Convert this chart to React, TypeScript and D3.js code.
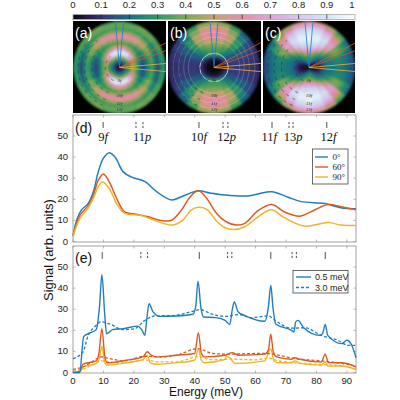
import React, { useEffect, useRef } from "react";
import * as d3 from "d3";

const blue = "#1f7dc2";
const orange = "#dc5a20";
const yellow = "#f0b429";

// colour scale of the polar maps
const cmapStops = [0, 0.05, 0.1, 0.2, 0.3, 0.4, 0.5, 0.6, 0.7, 0.8, 0.9, 1];
const cmapColors = ["#0c0c10", "#2b1a4c", "#36397c", "#177488", "#2f9a62", "#7fab55", "#cda070", "#e68fa8", "#e2a4dc", "#d8c8f0", "#d4e8f8", "#ffffff"];
const cbarTicks = [0, 0.1, 0.2, 0.3, 0.4, 0.5, 0.6, 0.7, 0.8, 0.9, 1];

// polar maps: one row per 15 deg from vertical, one column per radial ring
const mapA = [
  [.03,.1,.25,.4,.85,.95,.7,.5,.36,.45,.6,.57,.42,.33,.38,.35],
  [.03,.1,.25,.42,.85,.95,.7,.48,.34,.43,.6,.6,.42,.33,.38,.35],
  [.03,.1,.25,.42,.85,.92,.62,.42,.31,.4,.57,.6,.42,.31,.38,.38],
  [.03,.1,.25,.4,.72,.75,.5,.35,.28,.36,.48,.5,.38,.28,.38,.36],
  [.03,.1,.24,.35,.58,.55,.4,.28,.22,.3,.38,.42,.3,.23,.33,.34],
  [.03,.1,.22,.3,.48,.42,.3,.2,.14,.22,.3,.35,.25,.16,.28,.3],
  [.03,.1,.22,.28,.42,.38,.28,.16,.12,.2,.28,.32,.22,.12,.24,.3],
];
const mapB = [
  [0,0,.02,.08,.3,.32,.35,.4,.45,.5,.58,.6,.6,.58,.5,.45],
  [0,0,.02,.08,.3,.32,.34,.38,.44,.5,.56,.58,.58,.55,.48,.42],
  [0,0,.02,.07,.25,.26,.3,.33,.38,.42,.46,.48,.46,.42,.36,.3],
  [0,0,.02,.06,.18,.2,.22,.24,.26,.28,.3,.3,.28,.24,.2,.17],
  [0,0,.02,.05,.13,.14,.15,.16,.17,.17,.17,.17,.16,.14,.12,.1],
  [0,0,.01,.04,.1,.1,.11,.11,.11,.11,.11,.11,.1,.1,.09,.08],
  [0,0,.01,.04,.09,.09,.1,.1,.1,.1,.1,.1,.09,.09,.08,.07],
];
const mapC = [
  [.1,.2,.3,.35,.45,.62,.75,.85,.9,.95,.95,.95,.9,.85,.75,.6],
  [.05,.15,.25,.3,.4,.55,.72,.82,.88,.93,.95,.93,.88,.82,.72,.55],
  [.03,.1,.2,.25,.3,.38,.55,.7,.8,.85,.88,.85,.8,.72,.6,.45],
  [.02,.05,.12,.18,.22,.28,.35,.45,.55,.65,.68,.66,.6,.52,.42,.32],
  [.01,.03,.06,.1,.15,.2,.24,.28,.34,.38,.4,.38,.35,.3,.25,.2],
  [.01,.02,.03,.06,.12,.18,.2,.22,.24,.25,.26,.25,.23,.2,.17,.14],
  [.01,.02,.03,.05,.1,.16,.2,.21,.22,.23,.24,.23,.21,.18,.15,.12],
];
const ringFracs = [0.31, 0.6, 0.76, 0.9];
const ringLabels = ["9f", "10f", "11f", "12f"];
const thinRingsB = [0.31, 0.56, 0.66, 0.77, 0.89];

// panel (d): [energy, signal]
const d0: number[][] = [[0,2.5],[1.2,10],[2.8,15],[5,18],[6.7,23.6],[8.3,33],[10,39.5],[11.8,42],[13.8,40],[16.5,33],[19.3,30.5],[23.7,28.4],[27.5,23.6],[32.4,19.7],[36.2,21.6],[41.2,24],[45,23],[50,22],[57.6,21.6],[60.8,22.5],[65.3,23.6],[70.7,21],[75,18.9],[82.7,18],[88,16],[93,15.5]];
const d60: number[][] = [[0,2.5],[2.3,12.5],[5,17],[6.7,22],[8.3,29],[10,32],[12,28],[14.3,20.5],[17,14],[20.9,12.9],[24.7,11.7],[28.5,10.1],[32.4,10.1],[35.7,15],[38.4,21],[41.2,24],[43.9,20.5],[47.2,13.3],[50,9.7],[53.7,7.8],[56.5,8.6],[60.8,14.6],[65.3,17.5],[69.5,14],[74.6,12],[78.9,14.6],[83.9,17.5],[88,16.5],[93,15]];
const d90: number[][] = [[0,2.5],[2.3,11],[5,16],[6.7,20.5],[8.3,26],[9.7,28.2],[12,25],[14.3,18],[17,13.3],[22,12.5],[25,11],[29.6,8.6],[32.8,7.8],[36,10],[38.9,15],[41.5,16.2],[44.2,15],[47,10],[50,6.5],[53,5.7],[56.5,7],[60.8,11.7],[65.3,15],[69,11.7],[76,7.3],[83.9,9],[88,7.8],[93,7.6]];

// panel (e): solid 0.5 meV, dashed 3.0 meV
const eBlue: number[][] = [[0,0],[2.2,0],[3.5,17],[5,18.4],[7.6,20.3],[8.7,31],[9.5,46.3],[10.4,28],[11,18.4],[13,20.3],[16.5,20.8],[21.3,22],[22.7,20],[23.6,17.6],[24.2,24.7],[25,32.6],[26.3,28.7],[28.5,26.6],[34,26.8],[39.4,27.6],[40.3,31],[41.1,43.3],[42,31],[42.9,26.3],[47,26],[50,24.7],[51.5,22.7],[52.3,29.4],[53,33.4],[54.3,28.7],[56.5,27],[63,24.3],[64.2,31],[65,41.3],[65.7,31],[66.6,23],[71.8,20],[72.6,19.2],[73.2,24],[74,24.7],[75.7,21.3],[81.1,17.6],[82,18.4],[82.9,22.8],[83.7,17.6],[88.3,13.7],[90,15.3],[91.6,12.9],[93,7]];
const eBlueDash: number[][] = [[0,6.6],[3.3,9.8],[5,17.6],[7.1,21.6],[9.3,24],[12,23],[16.5,20.3],[20.3,20.8],[23.6,24.7],[26.9,26.8],[32.9,27],[39.4,29],[41.6,29.8],[46,27.5],[50,26.6],[54.3,27.5],[58.7,26],[64.2,26.8],[66.4,24.7],[71.8,21],[76.2,21.2],[81.6,17.6],[87,15.3],[90.4,12.9],[93,12.9]];
const eOrange: number[][] = [[0,0],[2.2,0.5],[3.3,4],[7.6,5.5],[8.5,9],[9.5,20.8],[10.4,8.2],[11.2,4.6],[17.5,5.8],[23,7.4],[24.4,9.8],[25.7,8.2],[27.4,7.4],[34,8.2],[40,9],[41.2,18.9],[42.2,9],[43.2,7.4],[50,8.2],[52.3,9.4],[54.3,8.2],[63,8.7],[64.2,10.6],[65,18.1],[65.8,9.8],[66.9,7.4],[71.8,6.3],[72.9,7],[74.6,6.3],[81.6,5],[82.9,8.7],[83.9,4.7],[88.3,4.6],[93,2.7]];
const eOrangeDash: number[][] = [[0,1.5],[3.3,2.7],[5.5,4.3],[9.3,7.4],[12,6.6],[16.5,5.5],[23.6,7.7],[28.5,7.4],[34,8.2],[41,11.3],[46,9],[51.5,8.7],[60,9],[64,9],[67.5,8.2],[73,6.6],[81.6,5.5],[88.3,4.3],[93,3]];
const eYellow: number[][] = [[0,0],[2.2,0],[3.3,2.7],[7.6,4.2],[8.5,5.8],[9.5,12.4],[10.4,5],[11.2,3.5],[17.5,4.6],[23,6.1],[24.4,8.2],[25.4,4.6],[27.4,3.9],[34,4.6],[40,5.8],[41.2,11.3],[42.2,5.8],[43.2,4.6],[49.8,6.1],[50.5,7.7],[51.5,7],[53.2,4.3],[63,5.5],[65,11.3],[65.9,6.1],[66.9,4.7],[71.8,4.6],[72.9,5.5],[74.6,4.3],[81.6,3.5],[82.9,5],[83.9,3],[88.3,3.1],[93,1.4]];
const eYellowDash: number[][] = [[0,1],[3.3,1.6],[5.5,3],[9.3,5.5],[12,5],[16.5,4.5],[23.6,6],[28.5,5],[34,5],[41,7.5],[46,6],[51.5,6.3],[60,6],[64,6.8],[67.5,5.5],[73,4.6],[81.6,3.8],[88.3,3.2],[93,1.8]];

// threshold markers
const dSolid = [9.9, 41.4, 65.4, 83.4];
const dDashed = [20.7, 23, 49.3, 50.9, 71, 72.3];
const eSolid = [9.6, 41.5, 65, 82.9];
const eDashed = [22.3, 24.5, 50.8, 52.2, 72, 73.4];
const dNames = ["9f", "11p", "10f", "12p", "11f", "13p", "12f"];
const dNameE = [9.9, 22.7, 41.4, 50.5, 64.5, 72.3, 84];

const xTicks = [0, 10, 20, 30, 40, 50, 60, 70, 80, 90];
const yTicks = [0, 10, 20, 30, 40, 50];

const sans = "'Liberation Sans', Arial, sans-serif";
const serif = "'Liberation Serif', 'Times New Roman', serif";

export default function App() {
  const ref = useRef<SVGSVGElement>(null);

  useEffect(() => {
    const svg = d3.select(ref.current);
    svg.selectAll("*").remove();

    const left = 73, right = 356;
    const x = d3.scaleLinear().domain([0, 93]).range([left, right]);
    const color = d3.scaleLinear<string>().domain(cmapStops).range(cmapColors);

    const defs = svg.append("defs");
    defs.append("filter").attr("id", "soft").attr("x", "-5%").attr("y", "-5%").attr("width", "110%").attr("height", "110%")
      .attr("color-interpolation-filters", "sRGB")
      .append("feGaussianBlur").attr("stdDeviation", 0.9);

    // colour bar
    const cb = d3.scaleLinear().domain([0, 1]).range([left, 355]);
    d3.range(0, 1, 0.01).forEach(v => {
      svg.append("rect").attr("x", cb(v)).attr("y", 14.5).attr("width", 3.4).attr("height", 5).attr("fill", color(v));
    });
    svg.append("rect").attr("x", left).attr("y", 14.5).attr("width", 282).attr("height", 5).attr("fill", "none").attr("stroke", "#aaa").attr("stroke-width", 0.8);
    cbarTicks.forEach((t, i) => {
      if (i > 0 && i < 10) svg.append("line").attr("x1", cb(t)).attr("x2", cb(t)).attr("y1", 14.5).attr("y2", 19).attr("stroke", "#222").attr("stroke-width", 0.7);
      svg.append("text").attr("x", i === 10 ? 352 : cb(t)).attr("y", 8).attr("text-anchor", "middle")
        .attr("font-family", sans).attr("font-size", 9.5).attr("fill", "#222").text(String(t));
    });

    // polar panels
    const R = 46;
    const panels = [
      { id: "a", map: mapA, x0: 73, w: 93, cx: 119.5, rings: [] as number[], ringOp: 0, dash: "#2a3a3a" },
      { id: "b", map: mapB, x0: 168, w: 93, cx: 214, rings: thinRingsB, ringOp: 0.4, dash: "#26303c" },
      { id: "c", map: mapC, x0: 263, w: 92, cx: 309, rings: [] as number[], ringOp: 0, dash: "#26303c" },
    ];
    const cy = 67.5;
    const arc = d3.arc();
    const ringW = R / 16;
    const radial = d3.lineRadial<number>().angle(d => d).radius(1).curve(d3.curveLinear);

    panels.forEach(p => {
      defs.append("clipPath").attr("id", "clip" + p.id).append("rect")
        .attr("x", p.x0).attr("y", 21).attr("width", p.w).attr("height", 92);
      const g = svg.append("g").attr("clip-path", `url(#clip${p.id})`);
      g.append("rect").attr("x", p.x0).attr("y", 21).attr("width", p.w).attr("height", 92).attr("fill", "#000");

      const cells = g.append("g").attr("filter", "url(#soft)").attr("transform", `translate(${p.cx},${cy})`);
      d3.range(24).forEach(s => {
        const deg = s * 15;
        const fold = deg <= 90 ? deg : deg <= 180 ? 180 - deg : deg <= 270 ? deg - 180 : 360 - deg;
        const row = p.map[fold / 15];
        const a0 = ((deg - 7.5) * Math.PI) / 180;
        const a1 = ((deg + 7.5) * Math.PI) / 180;
        row.forEach((v, i) => {
          const c = color(v);
          cells.append("path")
            .attr("d", arc({ innerRadius: i * ringW, outerRadius: (i + 1) * ringW, startAngle: a0, endAngle: a1 }) as string)
            .attr("fill", c).attr("stroke", c).attr("stroke-width", 0.5);
        });
      });

      const over = g.append("g").attr("transform", `translate(${p.cx},${cy})`);
      p.rings.forEach(r => {
        over.append("circle").attr("r", r * R).attr("fill", "none").attr("stroke", "#f4f0ea")
          .attr("stroke-width", r < 0.4 ? 1 : 0.5).attr("opacity", r < 0.4 ? 0.7 : p.ringOp);
      });

      // dashed threshold arcs on the left side
      ringFracs.forEach(r => {
        const pts = d3.range(3.55, 5.6, 0.04);
        over.append("path").attr("d", radial.radius(r * R)(pts) as string).attr("fill", "none")
          .attr("stroke", p.dash).attr("stroke-width", 0.6).attr("stroke-dasharray", "3 4");
      });

      // cuts through the map
      [[-5, blue], [5, blue], [62, orange], [70, orange], [85, yellow], [95, yellow]].forEach(([deg, c]) => {
        const a = ((deg as number) * Math.PI) / 180;
        over.append("line").attr("x1", 0).attr("y1", 0)
          .attr("x2", Math.sin(a) * 70).attr("y2", -Math.cos(a) * 70)
          .attr("stroke", c as string).attr("stroke-width", 0.8);
      });

      ringLabels.forEach((t, i) => {
        over.append("text").attr("x", 0).attr("y", [14, 29, 37, 43][i]).attr("text-anchor", "middle")
          .attr("font-family", serif).attr("font-style", "italic").attr("font-size", 5).attr("fill", "#222").text(t);
      });

      g.append("text").attr("x", p.x0 + 2).attr("y", 38)
        .attr("font-family", sans).attr("font-size", 14).attr("fill", "#fff").text(`(${p.id})`);
    });

    // line plots
    const frame = (top: number, bottom: number, zero: number, label: string, labelY: number) => {
      const y = d3.scaleLinear().domain([0, 50]).range([zero, zero - 105.5]);
      const g = svg.append("g");
      xTicks.forEach(t => {
        g.append("line").attr("x1", x(t)).attr("x2", x(t)).attr("y1", bottom).attr("y2", bottom - 2.5).attr("stroke", "#999").attr("stroke-width", 0.7);
        g.append("line").attr("x1", x(t)).attr("x2", x(t)).attr("y1", top).attr("y2", top + 2.5).attr("stroke", "#999").attr("stroke-width", 0.7);
      });
      yTicks.forEach(t => {
        g.append("line").attr("x1", left).attr("x2", left + 2.5).attr("y1", y(t)).attr("y2", y(t)).attr("stroke", "#999").attr("stroke-width", 0.7);
        g.append("line").attr("x1", right).attr("x2", right - 2.5).attr("y1", y(t)).attr("y2", y(t)).attr("stroke", "#999").attr("stroke-width", 0.7);
        g.append("text").attr("x", 68).attr("y", y(t) + 3).attr("text-anchor", "end")
          .attr("font-family", sans).attr("font-size", 9.5).attr("fill", "#222").text(String(t));
      });
      g.append("rect").attr("x", left).attr("y", top).attr("width", right - left).attr("height", bottom - top)
        .attr("fill", "none").attr("stroke", "#999").attr("stroke-width", 0.9);
      g.append("text").attr("x", left + 2).attr("y", labelY).attr("font-family", sans).attr("font-size", 14).attr("fill", "#111").text(label);
      return y;
    };

    const drawSeries = (data: number[][], y: d3.ScaleLinear<number, number>, c: string, curve: d3.CurveFactory, width: number, dash?: string) => {
      const line = d3.line<number[]>().x(d => x(d[0])).y(d => y(d[1])).curve(curve);
      const path = svg.append("path").datum(data).attr("fill", "none").attr("stroke", c).attr("stroke-width", width).attr("d", line);
      if (dash) path.attr("stroke-dasharray", dash);
    };

    const marks = (es: number[], y0: number, y1: number, dashed: boolean) => {
      es.forEach(e => {
        const l = svg.append("line").attr("x1", x(e)).attr("x2", x(e)).attr("y1", y0).attr("y2", y1).attr("stroke", "#222").attr("stroke-width", 0.8);
        if (dashed) l.attr("stroke-dasharray", "2.2 1.6");
      });
    };

    const yd = frame(115, 242, 241.5, "(d)", 133);
    marks(dSolid, 122, 128, false);
    marks(dDashed, 122, 128, true);
    dNames.forEach((t, i) => {
      svg.append("text").attr("x", x(dNameE[i])).attr("y", 141).attr("text-anchor", "middle")
        .attr("font-family", serif).attr("font-size", 12.5).attr("fill", "#111")
        .call(s => {
          s.append("tspan").text(t.slice(0, -1));
          s.append("tspan").attr("font-style", "italic").text(t.slice(-1));
        });
    });
    drawSeries(d0, yd, blue, d3.curveCatmullRom, 1.5);
    drawSeries(d60, yd, orange, d3.curveCatmullRom, 1.5);
    drawSeries(d90, yd, yellow, d3.curveCatmullRom, 1.5);

    const ye = frame(246, 373, 372.5, "(e)", 263);
    marks(eSolid, 252, 259, false);
    marks(eDashed, 252, 259, true);
    drawSeries(eYellow, ye, yellow, d3.curveMonotoneX, 1.4);
    drawSeries(eYellowDash, ye, yellow, d3.curveMonotoneX, 1.3, "3 2");
    drawSeries(eOrange, ye, orange, d3.curveMonotoneX, 1.4);
    drawSeries(eOrangeDash, ye, orange, d3.curveMonotoneX, 1.3, "3 2");
    drawSeries(eBlue, ye, blue, d3.curveMonotoneX, 1.4);
    drawSeries(eBlueDash, ye, blue, d3.curveMonotoneX, 1.3, "3 2");

    xTicks.forEach(t => {
      svg.append("text").attr("x", x(t)).attr("y", 384).attr("text-anchor", "middle")
        .attr("font-family", sans).attr("font-size", 9.5).attr("fill", "#222").text(String(t));
    });
    svg.append("text").attr("x", 206).attr("y", 396).attr("text-anchor", "middle")
      .attr("font-family", sans).attr("font-size", 12).attr("fill", "#111").text("Energy (meV)");
    svg.append("text").attr("transform", "translate(53,250) rotate(-90)").attr("text-anchor", "middle")
      .attr("font-family", sans).attr("font-size", 13).attr("fill", "#111").text("Signal (arb. units)");

    // legend (d)
    svg.append("rect").attr("x", 312.5).attr("y", 149).attr("width", 35.5).attr("height", 35)
      .attr("fill", "#fff").attr("stroke", "#444").attr("stroke-width", 0.8);
    [["0°", blue], ["60°", orange], ["90°", yellow]].forEach(([t, c], i) => {
      const ly = 157 + i * 10;
      svg.append("line").attr("x1", 315).attr("x2", 328).attr("y1", ly).attr("y2", ly).attr("stroke", c).attr("stroke-width", 1.4);
      svg.append("text").attr("x", 332.5).attr("y", ly + 3).attr("font-family", serif).attr("font-size", 9).attr("fill", "#222").text(t);
    });

    // legend (e)
    svg.append("rect").attr("x", 293).attr("y", 270.5).attr("width", 55).attr("height", 22.5)
      .attr("fill", "#fff").attr("stroke", "#444").attr("stroke-width", 0.8);
    [["0.5 meV", ""], ["3.0 meV", "3 2"]].forEach(([t, dash], i) => {
      const ly = 277 + i * 10.5;
      const l = svg.append("line").attr("x1", 296).attr("x2", 311).attr("y1", ly).attr("y2", ly).attr("stroke", blue).attr("stroke-width", 1.4);
      if (dash) l.attr("stroke-dasharray", dash);
      svg.append("text").attr("x", 315).attr("y", ly + 3).attr("font-family", sans).attr("font-size", 9).attr("fill", "#222").text(t);
    });
  }, []);

  return <svg ref={ref} width={400} height={400} style={{ position: "absolute", left: 0, top: 0, background: "#fff" }} />;
}
